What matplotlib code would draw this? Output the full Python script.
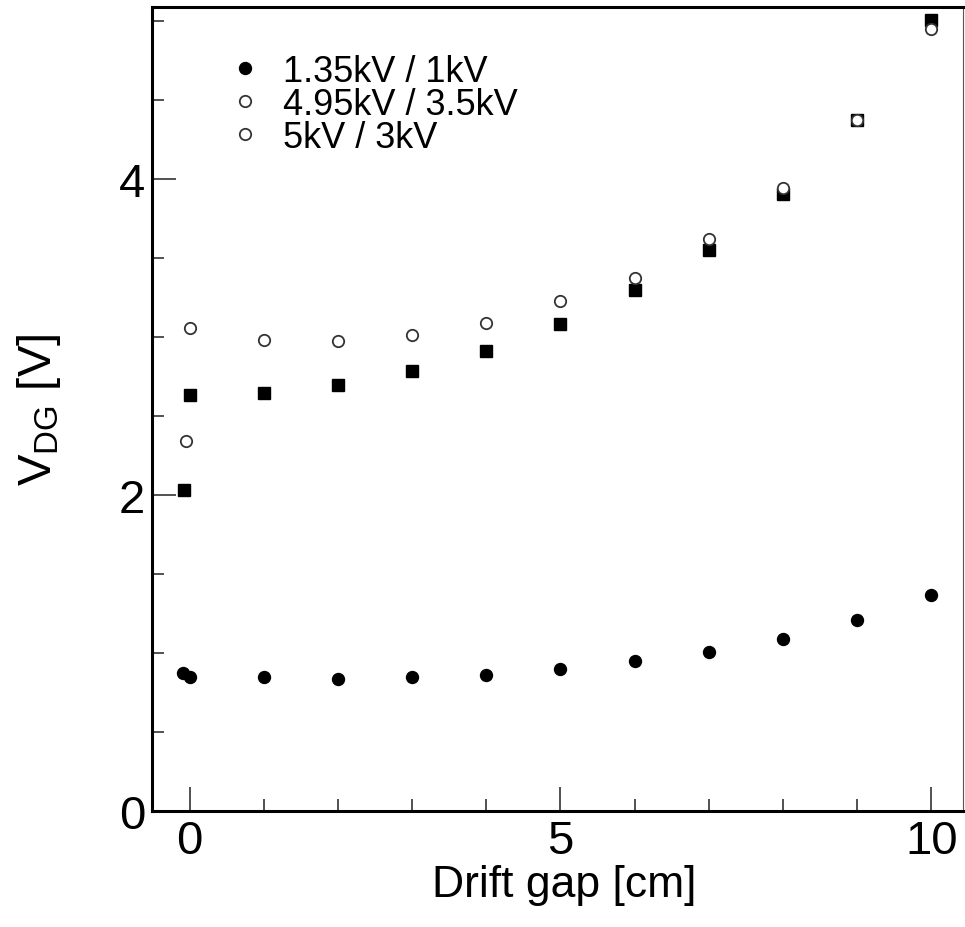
import matplotlib
matplotlib.use("Agg")
import matplotlib.pyplot as plt
from matplotlib.lines import Line2D
from matplotlib.ticker import MultipleLocator

plt.rcParams['font.family'] = ['Liberation Sans', 'DejaVu Sans']
plt.rcParams['mathtext.fontset'] = 'custom'
plt.rcParams['mathtext.rm'] = 'Liberation Sans'
plt.rcParams['mathtext.it'] = 'Liberation Sans'

# Data
x_a = [-0.09, 0.0, 1, 2, 3, 4, 5, 6, 7, 8, 9, 10]
v_a = [0.873, 0.848, 0.848, 0.835, 0.848, 0.861, 0.899, 0.949, 1.006, 1.089, 1.209, 1.367]

x_b = [-0.08, 0.0, 1, 2, 3, 4, 5, 6, 7, 8, 9, 10]
v_b = [2.032, 2.633, 2.646, 2.696, 2.785, 2.911, 3.082, 3.297, 3.551, 3.905, 4.373, 5.006]

x_c = [-0.05, 0.0, 1, 2, 3, 4, 5, 6, 7, 8, 9, 10]
v_c = [2.342, 3.057, 2.981, 2.975, 3.013, 3.089, 3.228, 3.373, 3.620, 3.943, 4.373, 4.949]

labels = ["1.35kV / 1kV", "4.95kV / 3.5kV", "5kV / 3kV"]

fig = plt.figure(figsize=(9.65, 9.28), dpi=100)
ax = fig.add_axes([0.1575, 0.125, 0.998 - 0.1575, 0.9914 - 0.125])

ms = 8.6
ax.plot(x_a, v_a, 'o', color='black', ms=ms, mec='black', zorder=3)
ax.plot(x_b, v_b, 's', color='black', ms=ms - 0.3, mec='black', zorder=3)
ax.plot(x_c, v_c, 'o', mfc='white', mec='#333333', ms=ms - 0.4, mew=1.3, zorder=4)

ax.set_xlim(-0.51, 10.43)
ax.set_ylim(0, 5.09)

ax.xaxis.set_major_locator(MultipleLocator(5))
ax.xaxis.set_minor_locator(MultipleLocator(1))
ax.yaxis.set_major_locator(MultipleLocator(2))
ax.yaxis.set_minor_locator(MultipleLocator(0.5))

ax.tick_params(which='both', direction='in', top=False, right=False,
               labelsize=34, width=1.2, color='#333333')
ax.tick_params(which='major', length=17)
ax.tick_params(which='minor', length=8.5)
ax.tick_params(axis='x', pad=6)
ax.tick_params(axis='y', pad=5)

for side in ['left', 'bottom', 'top']:
    ax.spines[side].set_linewidth(2.2)
ax.spines['right'].set_linewidth(0.8)
ax.spines['right'].set_color('#555555')

ax.set_xlabel("Drift gap [cm]", fontsize=32)
ax.set_ylabel(r"V$_{\mathregular{DG}}$ [V]", fontsize=34)
ax.xaxis.set_label_coords(0.508, -0.066)
ax.yaxis.set_label_coords(-0.110, 0.5)

handles = [
    Line2D([], [], ls='none', marker='o', color='black', ms=ms),
    Line2D([], [], ls='none', marker='o', mfc='white', mec='#333333', ms=ms - 0.4, mew=1.3),
    Line2D([], [], ls='none', marker='o', mfc='white', mec='#333333', ms=ms - 0.4, mew=1.3),
]
ax.legend(handles, labels, loc='upper left', bbox_to_anchor=(0.075, 0.960),
          frameon=False, fontsize=26, labelspacing=-0.05, handletextpad=0.55,
          handlelength=1.0, borderaxespad=0)

fig.savefig("out.png", dpi=100)
